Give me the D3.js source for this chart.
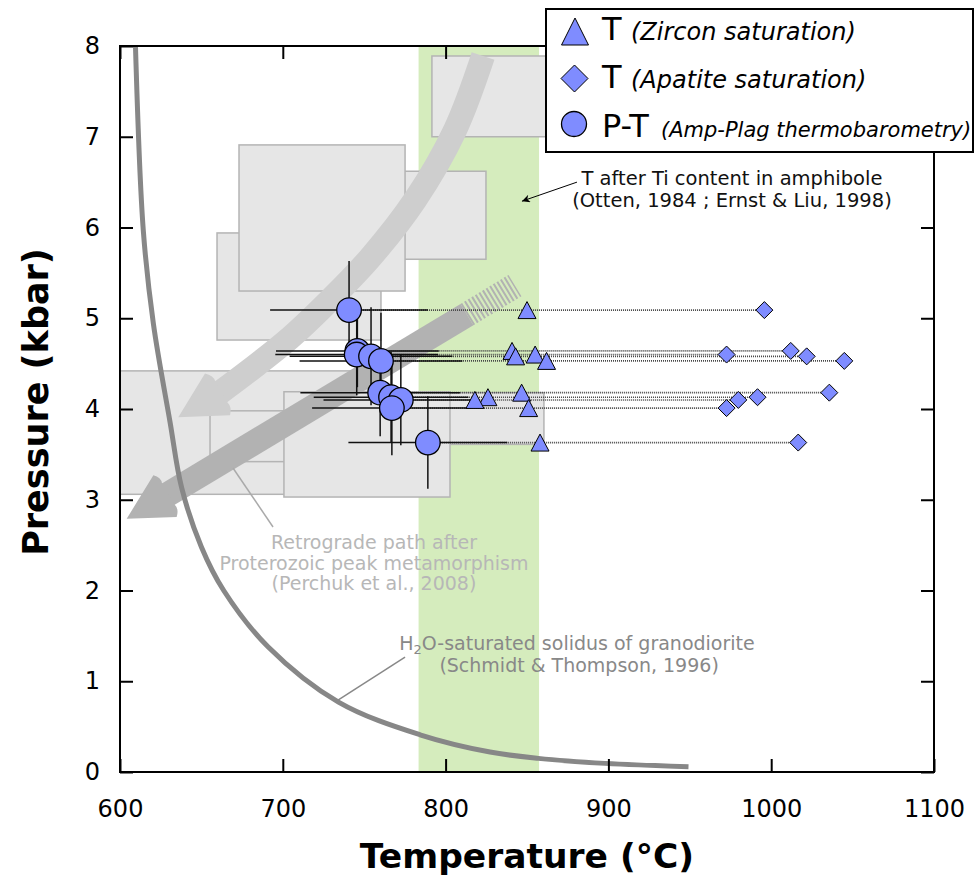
<!DOCTYPE html>
<html><head><meta charset="utf-8">
<script src="https://cdn.jsdelivr.net/npm/d3@7"></script>
<style>body{margin:0;background:#fff} svg{display:block;font-family:"DejaVu Sans",sans-serif}</style>
</head><body><svg id="c" width="976" height="878"></svg>
<script>
// ---------------- data ----------------
const sampleP   = [5.09, 4.64, 4.60, 4.58, 4.53, 4.18, 4.13, 4.10, 4.01, 3.63];
const ampT      = [740.7, 745.8, 745.4, 754.2, 760.3, 759.8, 766.5, 772.5, 767.0, 789.1];
const ampTerr   = [48.5, 50, 50, 50, 50, 49, 47.5, 47.5, 49, 48.8];
const ampPerr   = [0.54, 0.40, 0.45, 0.54, 0.53, 0.48, 0.50, 0.50, 0.52, 0.51];
const zirconT   = [850, 840.8, 855, 843, 862, 846.7, 826, 818, 851, 858];
const apatiteT  = [995.8, 1012, 972.6, 1021.8, 1044.9, 1035.7, 991.6, 979.8, 972.6, 1016.6];

const xTicks = [600, 700, 800, 900, 1000, 1100];
const yTicks = [0, 1, 2, 3, 4, 5, 6, 7, 8];

// H2O-saturated granodiorite solidus (Schmidt & Thompson 1996)
const solidusT = [609.5, 614.3, 620.5, 630.7, 637.9, 650.0, 663.7, 690.9, 734.2, 784.3, 827.3, 857, 898, 949.2];
const solidusP = [8.0, 5.97, 4.94, 3.86, 3.13, 2.48, 2.0, 1.38, 0.77, 0.41, 0.22, 0.15, 0.095, 0.058];

// Ti-in-amphibole temperature band
const bandT = [783.4, 857.4];

// gray P-T boxes (Perchuk et al. 2008), drawing order
const boxT0 = [791.6, 740, 659.6, 673.1, 600, 655.3, 780, 700.7];
const boxT1 = [900, 824.8, 760.3, 775.1, 755, 740, 860.4, 802.7];
const boxP0 = [7.00, 5.65, 4.76, 5.30, 3.06, 3.42, 3.61, 3.03];
const boxP1 = [7.89, 6.62, 5.94, 6.91, 4.42, 3.98, 4.18, 4.19];

// retrograde arrows
const lightPathT = [823.0, 805.8, 781.2, 753.6, 729.0, 704.4, 679.9, 660.2];
const lightPathP = [7.89, 7.074, 6.303, 5.664, 5.201, 4.782, 4.430, 4.165];
const lightHeadT = [635.8, 652.2, 667.6];   // tip, wing, wing
const lightHeadP = [3.91, 4.39, 3.93];
const darkShaftT = [627.6, 813.1, 842.6];   // head base, end of solid, end of hatched
const darkShaftP = [3.04, 5.04, 5.36];
const darkHeadT  = [604.1, 620.5, 634.8];
const darkHeadP  = [2.79, 3.27, 2.81];

// ---------------- setup ----------------
const svg = d3.select("#c");
const x = d3.scaleLinear().domain([600, 1100]).range([120, 934]);
const y = d3.scaleLinear().domain([0, 8]).range([772, 46]);

svg.append("defs").append("clipPath").attr("id", "plot")
  .append("rect").attr("x", 120).attr("y", 46).attr("width", 814).attr("height", 726);
const g = svg.append("g").attr("clip-path", "url(#plot)");

// green band
g.append("rect").attr("x", x(bandT[0])).attr("width", x(bandT[1]) - x(bandT[0]))
  .attr("y", y(8)).attr("height", y(0) - y(8)).attr("fill", "#d5ecbd");

// boxes
g.selectAll("rect.box").data(boxT0.map((d, i) => i)).join("rect").attr("class", "box")
  .attr("x", i => x(boxT0[i])).attr("width", i => x(boxT1[i]) - x(boxT0[i]))
  .attr("y", i => y(boxP1[i])).attr("height", i => y(boxP0[i]) - y(boxP1[i]))
  .attr("fill", "#e6e6e6").attr("stroke", "#b4b4b4").attr("stroke-width", 1.5);

// arrowhead helper (pixel space)
function head(tip, w1, w2, base, shaftW, notch) {
  const dx = base[0] - tip[0], dy = base[1] - tip[1], L = Math.hypot(dx, dy);
  const ux = dx / L, uy = dy / L, nx = -uy, ny = ux;
  const h = shaftW / 2;
  const b = [base[0] + ux * notch, base[1] + uy * notch];
  const i1 = [b[0] + nx * h, b[1] + ny * h], i2 = [b[0] - nx * h, b[1] - ny * h];
  const s1 = (w1[0] - base[0]) * nx + (w1[1] - base[1]) * ny;
  const A = s1 > 0 ? w1 : w2, B = s1 > 0 ? w2 : w1;
  const cA = [(A[0] + i1[0]) / 2 + ux * 4, (A[1] + i1[1]) / 2 + uy * 4];
  const cB = [(B[0] + i2[0]) / 2 + ux * 4, (B[1] + i2[1]) / 2 + uy * 4];
  return `M${tip}L${A}Q${cA} ${i1}L${i2}Q${cB} ${B}Z`;
}

// light curved arrow
const lightPts = lightPathT.map((t, i) => [x(t), y(lightPathP[i])]);
g.append("path").attr("d", d3.line().curve(d3.curveCatmullRom)(lightPts))
  .attr("fill", "none").attr("stroke", "#cecece").attr("stroke-width", 24);
{
  const tip = [x(lightHeadT[0]), y(lightHeadP[0])];
  const w1 = [x(lightHeadT[1]), y(lightHeadP[1])];
  const w2 = [x(lightHeadT[2]), y(lightHeadP[2])];
  const base = lightPts[lightPts.length - 1];
  g.append("path").attr("d", head(tip, w1, w2, base, 24, 4)).attr("fill", "#cecece");
}

// dark straight arrow
{
  const p0 = [x(darkShaftT[0]), y(darkShaftP[0])];
  const p1 = [x(darkShaftT[1]), y(darkShaftP[1])];
  const p2 = [x(darkShaftT[2]), y(darkShaftP[2])];
  g.append("line").attr("x1", p0[0]).attr("y1", p0[1]).attr("x2", p1[0]).attr("y2", p1[1])
    .attr("stroke", "#b2b2b2").attr("stroke-width", 25);
  g.append("line").attr("x1", p1[0]).attr("y1", p1[1]).attr("x2", p2[0]).attr("y2", p2[1])
    .attr("stroke", "#b2b2b2").attr("stroke-width", 25).attr("stroke-dasharray", "2,2.2");
  const tip = [x(darkHeadT[0]), y(darkHeadP[0])];
  const w1 = [x(darkHeadT[1]), y(darkHeadP[1])];
  const w2 = [x(darkHeadT[2]), y(darkHeadP[2])];
  g.append("path").attr("d", head(tip, w1, w2, p0, 25, 4)).attr("fill", "#b2b2b2");
}

// solidus curve
g.append("path").attr("d", d3.line().curve(d3.curveCatmullRom.alpha(0.5))
    (solidusT.map((t, i) => [x(t), y(solidusP[i])])))
  .attr("fill", "none").attr("stroke", "#878787").attr("stroke-width", 5);

// annotations
const FS = 19;
const ann = svg.append("g");
ann.append("line").attr("x1", x(669.4)).attr("y1", y(3.35)).attr("x2", x(694)).attr("y2", y(2.70))
  .attr("stroke", "#aaaaaa").attr("stroke-width", 1.5);
const retro = ann.append("text").attr("text-anchor", "middle").attr("fill", "#b7b7b7").attr("font-size", FS);
[["Retrograde path after", 2.457], ["Proterozoic peak metamorphism", 2.226], ["(Perchuk et al., 2008)", 2.005]]
  .forEach(([t, p]) => retro.append("tspan").attr("x", x(756)).attr("y", y(p)).text(t));

ann.append("line").attr("x1", x(733.9)).attr("y1", y(0.793)).attr("x2", x(775.1)).attr("y2", y(1.267))
  .attr("stroke", "#888").attr("stroke-width", 1.5);
const sol1 = ann.append("text").attr("text-anchor", "middle").attr("fill", "#888").attr("font-size", FS)
  .attr("x", x(880.7)).attr("y", y(1.344));
sol1.append("tspan").text("H");
sol1.append("tspan").attr("font-size", 13).attr("dy", 4).text("2");
sol1.append("tspan").attr("dy", -4).text("O-saturated solidus of granodiorite");
ann.append("text").attr("text-anchor", "middle").attr("fill", "#888").attr("font-size", FS)
  .attr("x", x(882)).attr("y", y(1.102)).text("(Schmidt & Thompson, 1996)");

// Ti note
svg.append("defs").append("marker").attr("id", "ah").attr("viewBox", "0 0 10 10")
  .attr("refX", 10).attr("refY", 5).attr("markerWidth", 12).attr("markerHeight", 8)
  .attr("markerUnits", "userSpaceOnUse").attr("orient", "auto")
  .append("path").attr("d", "M0,0L10,5L0,10L3,5Z").attr("fill", "#000");
ann.append("line").attr("x1", x(880.7)).attr("y1", y(6.50)).attr("x2", x(846.9)).attr("y2", y(6.29))
  .attr("stroke", "#000").attr("stroke-width", 1).attr("marker-end", "url(#ah)");
const ti = ann.append("text").attr("text-anchor", "middle").attr("fill", "#111").attr("font-size", 19.5);
[["T after Ti content in amphibole", 6.47], ["(Otten, 1984 ; Ernst & Liu, 1998)", 6.23]]
  .forEach(([t, p]) => ti.append("tspan").attr("x", x(975.9)).attr("y", y(p)).text(t));

// ---------------- data marks ----------------
const idx = sampleP.map((d, i) => i);
const dm = svg.append("g");
dm.selectAll("line.dot").data(idx).join("line")
  .attr("x1", i => x(ampT[i])).attr("x2", i => x(apatiteT[i]))
  .attr("y1", i => y(sampleP[i])).attr("y2", i => y(sampleP[i]))
  .attr("stroke", "#444").attr("stroke-width", 1.6).attr("stroke-dasharray", "1,1");
dm.selectAll("line.eh").data(idx).join("line")
  .attr("x1", i => x(ampT[i] - ampTerr[i])).attr("x2", i => x(ampT[i] + ampTerr[i]))
  .attr("y1", i => y(sampleP[i])).attr("y2", i => y(sampleP[i]))
  .attr("stroke", "#111").attr("stroke-width", 1.5);
dm.selectAll("line.ev").data(idx).join("line")
  .attr("x1", i => x(ampT[i])).attr("x2", i => x(ampT[i]))
  .attr("y1", i => y(sampleP[i] - ampPerr[i])).attr("y2", i => y(sampleP[i] + ampPerr[i]))
  .attr("stroke", "#111").attr("stroke-width", 1.5);

const fillC = "#7f8cff";
const triPath = (w, h) => `M0,${-h / 2}L${w / 2},${h / 2}L${-w / 2},${h / 2}Z`;
const diaPath = r => `M0,${-r}L${r},0L0,${r}L${-r},0Z`;

dm.selectAll("path.tri").data(idx).join("path")
  .attr("d", triPath(18, 17)).attr("transform", i => `translate(${x(zirconT[i])},${y(sampleP[i])})`)
  .attr("fill", fillC).attr("stroke", "#000").attr("stroke-width", 1);
dm.selectAll("path.dia").data(idx).join("path")
  .attr("d", diaPath(8.5)).attr("transform", i => `translate(${x(apatiteT[i])},${y(sampleP[i])})`)
  .attr("fill", fillC).attr("stroke", "#000").attr("stroke-width", 1);
dm.selectAll("circle").data(idx).join("circle")
  .attr("cx", i => x(ampT[i])).attr("cy", i => y(sampleP[i])).attr("r", 12.3)
  .attr("fill", fillC).attr("stroke", "#000").attr("stroke-width", 1.3);

// ---------------- axes & frame ----------------
function styleAxis(sel) {
  sel.select(".domain").remove();
  sel.selectAll("line").attr("stroke", "#000").attr("stroke-width", 2);
  sel.selectAll("text").attr("font-family", "DejaVu Sans").attr("font-size", 24).attr("fill", "#000");
}
const fmt = d3.format("d");
svg.append("g").attr("transform", "translate(0,772)")
  .call(d3.axisBottom(x).tickValues(xTicks).tickSize(-13).tickPadding(28).tickFormat(fmt)).call(styleAxis);
svg.append("g").attr("transform", "translate(120,0)")
  .call(d3.axisLeft(y).tickValues(yTicks).tickSize(-13).tickPadding(20).tickFormat(fmt)).call(styleAxis);
svg.append("g").attr("transform", "translate(0,46)")
  .call(d3.axisTop(x).tickValues(xTicks).tickSize(-13).tickFormat("")).call(styleAxis);
svg.append("g").attr("transform", "translate(934,0)")
  .call(d3.axisRight(y).tickValues(yTicks).tickSize(-13).tickFormat("")).call(styleAxis);
svg.append("rect").attr("x", 120).attr("y", 46).attr("width", 814).attr("height", 726)
  .attr("fill", "none").attr("stroke", "#000").attr("stroke-width", 2);

svg.append("text").attr("x", 527).attr("y", 868).attr("text-anchor", "middle")
  .attr("font-size", 34.5).attr("font-weight", "bold").text("Temperature (°C)");
svg.append("text").attr("transform", "translate(48,402) rotate(-90)").attr("text-anchor", "middle")
  .attr("font-size", 35).attr("font-weight", "bold").text("Pressure (kbar)");

// ---------------- legend ----------------
const lg = svg.append("g");
lg.append("rect").attr("x", 546).attr("y", 9).attr("width", 427).attr("height", 143)
  .attr("fill", "#fff").attr("stroke", "#000").attr("stroke-width", 2);
lg.append("path").attr("d", triPath(27, 27)).attr("transform", "translate(575,31.5)")
  .attr("fill", fillC).attr("stroke", "#000").attr("stroke-width", 1);
lg.append("path").attr("d", diaPath(13.5)).attr("transform", "translate(574.5,78.5)")
  .attr("fill", fillC).attr("stroke", "#000").attr("stroke-width", 1);
lg.append("circle").attr("cx", 574).attr("cy", 124).attr("r", 12.5)
  .attr("fill", fillC).attr("stroke", "#000").attr("stroke-width", 1.3);
const legRows = [["T", "(Zircon saturation)", 40, 631, 24], ["T", "(Apatite saturation)", 88, 631, 24],
                 ["P-T", "(Amp-Plag thermobarometry)", 137, 661, 21]];
legRows.forEach(([a, b, yy, xi, fs]) => {
  lg.append("text").attr("x", 602).attr("y", yy).attr("font-size", 32).text(a);
  lg.append("text").attr("x", xi).attr("y", yy).attr("font-size", fs).attr("font-style", "italic").text(b);
});
</script></body></html>
